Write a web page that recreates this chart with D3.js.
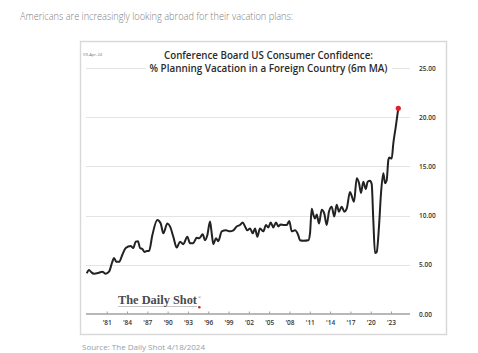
<!DOCTYPE html>
<html>
<head>
<meta charset="utf-8">
<script src="https://cdn.jsdelivr.net/npm/d3@7"></script>
<style>
  body { margin: 0; background: #fff; }
  svg { display: block; }
</style>
</head>
<body>
<svg id="chart" width="478" height="353"></svg>
<script>
// decimal year of each reading (6m moving average)
const years = [
  1978.05, 1978.39, 1978.73, 1979.12, 1979.86, 1980.35, 1980.85, 1981.34, 1981.83, 1982.08,
  1982.42, 1982.82, 1983.30, 1983.81, 1984.55, 1984.93, 1985.28, 1985.62, 1985.92, 1986.26,
  1986.61, 1986.91, 1987.25, 1987.74, 1988.47, 1988.98, 1989.36, 1989.95, 1990.35, 1990.84,
  1991.34, 1991.83, 1992.31, 1992.91, 1993.30, 1993.79, 1994.29, 1994.68, 1995.18, 1995.52,
  1995.86, 1996.26, 1996.51, 1996.75, 1997.14, 1997.48, 1997.99, 1998.62, 1999.21, 1999.70,
  2000.20, 2000.69, 2001.09, 2001.43, 2001.77, 2002.17, 2002.57, 2002.91, 2003.25, 2003.64,
  2004.13, 2004.53, 2004.87, 2005.22, 2005.61, 2006.01, 2006.35, 2006.70, 2007.19, 2007.59,
  2007.97, 2008.33, 2008.81, 2009.30, 2009.55, 2010.04, 2010.78, 2011.03, 2011.28, 2011.52,
  2011.77, 2012.02, 2012.36, 2012.76, 2013.14, 2013.50, 2013.83, 2014.23, 2014.61, 2014.97,
  2015.31, 2015.71, 2016.10, 2016.45, 2016.94, 2017.19, 2017.53, 2017.93, 2018.27, 2018.56,
  2018.90, 2019.26, 2019.55, 2019.89, 2020.14, 2020.38, 2020.63, 2020.88, 2021.22, 2021.52,
  2021.86, 2022.11, 2022.36, 2022.60, 2022.74, 2023.10, 2023.33, 2023.69, 2024.07
];
const values = [
  4.14, 4.47, 4.24, 4.10, 4.20, 4.30, 4.10, 4.30, 5.30, 5.70,
  5.30, 5.30, 6.00, 6.70, 6.90, 6.70, 7.35, 7.40, 6.70, 6.60,
  6.30, 6.40, 6.40, 8.00, 9.55, 9.20, 8.20, 9.20, 8.90, 7.85,
  6.75, 7.35, 7.10, 7.85, 7.20, 7.20, 7.75, 7.70, 8.10, 7.50,
  8.00, 9.40, 8.20, 7.10, 7.70, 7.40, 8.40, 8.50, 8.40, 8.50,
  8.90, 9.05, 9.30, 8.90, 8.50, 8.70, 8.20, 8.70, 7.85, 8.70,
  8.40, 9.05, 8.80, 9.30, 8.80, 9.30, 8.90, 9.10, 9.05, 9.05,
  9.45, 8.40, 8.50, 8.00, 7.50, 7.45, 7.50, 8.20, 10.70, 10.10,
  9.70, 10.10, 9.20, 10.60, 10.20, 9.05, 10.40, 10.90, 9.90, 11.10,
  10.40, 10.90, 10.40, 10.70, 12.40, 12.00, 11.40, 13.80, 13.30, 12.30,
  13.45, 12.70, 13.45, 13.55, 13.20, 9.55, 6.20, 6.30, 8.90, 12.30,
  14.30, 13.30, 13.60, 15.65, 15.90, 15.80, 17.30, 19.00, 20.90
];
const yTicks = [0, 5, 10, 15, 20, 25];
const xTickYears = [1981, 1984, 1987, 1990, 1993, 1996, 1999, 2002, 2005, 2008, 2011, 2014, 2017, 2020, 2023];

const data = years.map((y, i) => ({ year: y, value: values[i] }));

const svg = d3.select("#chart");

// 页面上方的说明文字
svg.append("text")
  .attr("x", 20)
  .attr("y", 20)
  .attr("font-family", "Open Sans")
  .attr("font-weight", 300)
  .attr("font-size", 10.5)
  .attr("fill", "#808080")
  .attr("textLength", 273)
  .attr("lengthAdjust", "spacingAndGlyphs")
  .text("Americans are increasingly looking abroad for their vacation plans:");

// 图表外框
svg.append("rect")
  .attr("x", 80.5)
  .attr("y", 41.5)
  .attr("width", 366)
  .attr("height", 293)
  .attr("fill", "#fff")
  .attr("stroke", "#d8d8d8")
  .attr("stroke-width", 1.4);

const x = d3.scaleLinear().domain([1978, 2025.8]).range([86.4, 410]);
const y = d3.scaleLinear().domain([0, 25]).range([314, 68]);

// 网格线
svg.append("g")
  .selectAll("line")
  .data(yTicks.filter(d => d > 0))
  .join("line")
  .attr("x1", 86)
  .attr("x2", 410)
  .attr("y1", d => Math.round(y(d)) + 0.5)
  .attr("y2", d => Math.round(y(d)) + 0.5)
  .attr("stroke", "#e4e4e4")
  .attr("stroke-width", 1);

// 右侧 y 轴
const yAxis = d3.axisRight(y)
  .tickValues(yTicks)
  .tickFormat(d3.format(".2f"))
  .tickSize(0)
  .tickPadding(0);

const yG = svg.append("g")
  .attr("transform", "translate(419,0)")
  .call(yAxis);
yG.select(".domain").remove();
yG.selectAll("text")
  .attr("font-family", "Open Sans")
  .attr("font-weight", 600)
  .attr("font-size", 6.5)
  .attr("fill", "#333");

// 标题（白底遮住 25 的网格线）
svg.append("rect")
  .attr("x", 146)
  .attr("y", 46)
  .attr("width", 246)
  .attr("height", 30)
  .attr("fill", "#fff");

const titleLines = [
  { text: "Conference Board US Consumer Confidence:", y: 58.5, w: 209 },
  { text: "% Planning Vacation in a Foreign Country (6m MA)", y: 72, w: 238 }
];
svg.append("g")
  .selectAll("text")
  .data(titleLines)
  .join("text")
  .attr("x", 268.5)
  .attr("y", d => d.y)
  .attr("text-anchor", "middle")
  .attr("font-family", "Open Sans")
  .attr("font-weight", 600)
  .attr("font-size", 10.5)
  .attr("fill", "#2b2b2b")
  .attr("textLength", d => d.w)
  .attr("lengthAdjust", "spacingAndGlyphs")
  .text(d => d.text);

// 日期
svg.append("text")
  .attr("x", 83)
  .attr("y", 56)
  .attr("font-family", "Open Sans")
  .attr("font-size", 4.2)
  .attr("fill", "#777")
  .text("09-Apr-24");

// x 轴
const xAxis = d3.axisBottom(x)
  .tickValues(xTickYears)
  .tickFormat(d => "'" + String(d).slice(2))
  .tickSize(0)
  .tickPadding(6);

const xG = svg.append("g")
  .attr("transform", "translate(0,314)")
  .call(xAxis);
xG.select(".domain")
  .attr("d", "M86,0H410")
  .attr("stroke", "#a0a0a0")
  .attr("stroke-width", 1.5);
xG.selectAll(".tick line")
  .attr("y1", -2.5)
  .attr("y2", 0)
  .attr("stroke", "#a0a0a0");
xG.selectAll("text")
  .attr("font-family", "Open Sans")
  .attr("font-weight", 600)
  .attr("font-size", 6.5)
  .attr("fill", "#333");

// The Daily Shot 标志
svg.append("line")
  .attr("x1", 118)
  .attr("x2", 197)
  .attr("y1", 306.5)
  .attr("y2", 306.5)
  .attr("stroke", "#b8b8b8")
  .attr("stroke-width", 0.8);
svg.append("text")
  .attr("x", 118)
  .attr("y", 304)
  .attr("font-family", "Liberation Serif")
  .attr("font-weight", "bold")
  .attr("font-size", 11.5)
  .attr("fill", "#4a4a4a")
  .attr("textLength", 79)
  .attr("lengthAdjust", "spacingAndGlyphs")
  .text("The Daily Shot");
svg.append("text")
  .attr("x", 198)
  .attr("y", 299)
  .attr("font-family", "Liberation Serif")
  .attr("font-size", 4)
  .attr("fill", "#666")
  .text("®");
svg.append("circle")
  .attr("cx", 199.3)
  .attr("cy", 307.3)
  .attr("r", 1.3)
  .attr("fill", "#d0202a");

// 数据线
const line = d3.line()
  .x(d => x(d.year))
  .y(d => y(d.value))
  .curve(d3.curveMonotoneX);

svg.append("path")
  .datum(data)
  .attr("d", line)
  .attr("fill", "none")
  .attr("stroke", "#222")
  .attr("stroke-width", 2)
  .attr("stroke-linejoin", "round");

// 最新值红点
const last = data[data.length - 1];
svg.append("circle")
  .attr("cx", x(last.year))
  .attr("cy", y(last.value))
  .attr("r", 2.6)
  .attr("fill", "#e0202a");

// 来源
svg.append("text")
  .attr("x", 82)
  .attr("y", 350)
  .attr("font-family", "Open Sans")
  .attr("font-size", 6.5)
  .attr("fill", "#8fa0b0")
  .attr("textLength", 123)
  .attr("lengthAdjust", "spacingAndGlyphs")
  .text("Source: The Daily Shot 4/18/2024");
</script>
</body>
</html>
